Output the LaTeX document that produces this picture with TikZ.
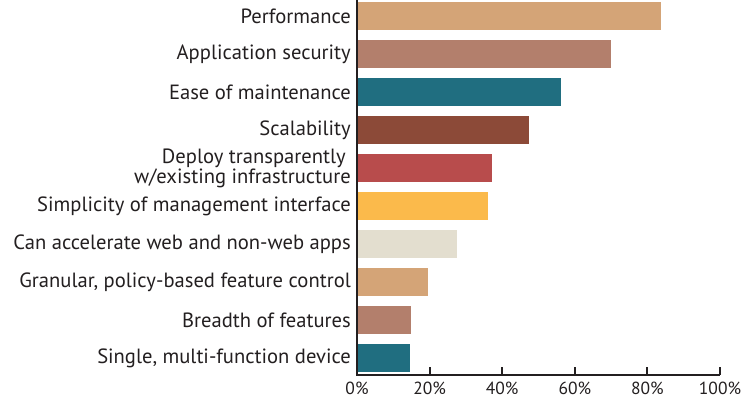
\documentclass[tikz,border=0pt]{standalone}
\usepackage{fontspec}
\setmainfont{PT Sans}
\usepackage{tikz}

\definecolor{tan}{HTML}{D4A477}
\definecolor{rose}{HTML}{B37F6C}
\definecolor{teal}{HTML}{206E80}
\definecolor{brick}{HTML}{8C4A38}
\definecolor{redbar}{HTML}{B84C4C}
\definecolor{amber}{HTML}{FBBA4B}
\definecolor{sand}{HTML}{E3DECF}
\definecolor{axis}{HTML}{231F20}

\tikzset{
  lbl/.style={anchor=east,inner sep=0pt,font=\fontsize{20.6}{20}\selectfont,text=axis,align=right},
  tick/.style={anchor=center,inner sep=0pt,font=\fontsize{17.5}{20}\selectfont,text=axis}
}

\begin{document}
\begin{tikzpicture}[x=1pt,y=-1pt]
\useasboundingbox (0,0) rectangle (752,401);
\node[lbl](perf) at (351,16){Performance};
\node[lbl](appsec) at (351,54){Application security};
\node[lbl](maint) at (351,92){Ease of maintenance};
\node[lbl](scal) at (351,130){Scalability};
\node[lbl](deploy) at (351,168){Deploy transparently\hspace*{5pt}\\w/existing infrastructure};
\node[lbl](simpl) at (351,206){Simplicity of management interface};
\node[lbl](accel) at (351,244){Can accelerate web and non-web apps};
\node[lbl](gran) at (351,282){Granular, policy-based feature control};
\node[lbl](breadth) at (351,320){Breadth of features};
\node[lbl](single) at (351,358){Single, multi-function device};
\foreach \y/\w/\c in {2/83.7/tan,40/70/rose,78/56.2/teal,116/47.4/brick,154/37.2/redbar,
  192/36.1/amber,230/27.5/sand,268/19.6/tan,306/14.9/rose,344/14.6/teal}
 \fill[\c] (357,\y) rectangle (357+3.63*\w,\y+28);
\coordinate (o) at (357,375);
\coordinate (top) at (357,0);
\coordinate (end) at (720,375);
\draw[axis,line width=2pt] (top) -- (o) -- (end);
\foreach \p in {0,20,40,60,80,100}{
 \draw[axis,line width=2pt] (357+3.63*\p,367) -- (357+3.63*\p,375);
 \node[tick](t\p) at (357+3.63*\p,388){\p\%};
}
\end{tikzpicture}
\end{document}
